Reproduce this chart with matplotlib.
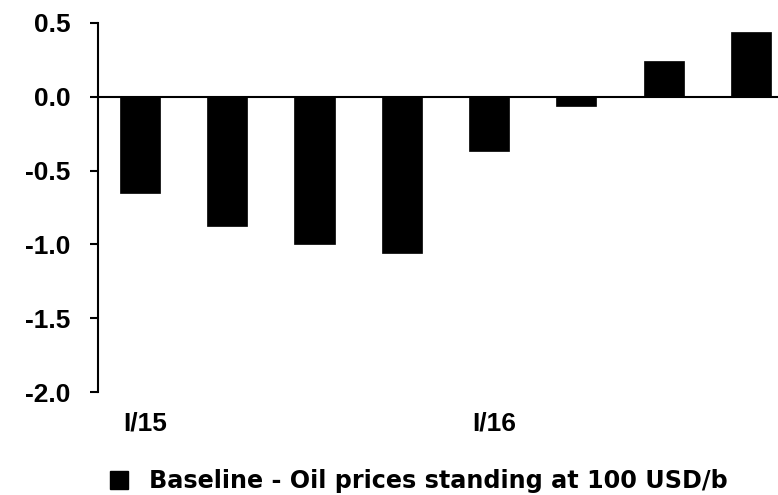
import matplotlib
matplotlib.use("Agg")
import matplotlib.pyplot as plt
import matplotlib.transforms as mtransforms
from matplotlib.lines import Line2D

plt.rcParams['font.family'] = ['Liberation Sans', 'DejaVu Sans']
plt.rcParams['font.weight'] = 'bold'

quarters = ["I/15", "II/15", "III/15", "IV/15", "I/16", "II/16", "III/16", "IV/16"]
values = [-0.65, -0.875, -1.0, -1.06, -0.37, -0.06, 0.24, 0.44]
shown_labels = {"I/15": "I/15", "I/16": "I/16"}
yticks = [0.5, 0.0, -0.5, -1.0, -1.5, -2.0]
legend_label = "Baseline - Oil prices standing at 100 USD/b"

W, H = 778, 495
fig = plt.figure(figsize=(W / 100, H / 100), dpi=100)
ax = fig.add_axes([98 / W, 1 - 392 / H, 1 - 98 / W, (392 - 23) / H])

x = list(range(len(quarters)))
ax.bar(x, values, width=0.46, color="black", edgecolor="black", linewidth=0.5, zorder=2)
ax.axhline(0, color="black", linewidth=1.5, zorder=3)

ax.set_xlim(-0.48, 7.31)
ax.set_ylim(-2.0, 0.5)
ax.set_yticks(yticks)
ax.set_yticklabels([f"{v:.1f}" for v in yticks], fontsize=19, fontweight="bold")
ax.set_xticks([i for i, q in enumerate(quarters) if q in shown_labels])
ax.set_xticklabels([shown_labels[q] for q in quarters if q in shown_labels], fontsize=19, fontweight="bold")
ax.tick_params(axis="x", length=0, pad=14)
ax.tick_params(axis="y", direction="out", length=6, width=1.5, pad=14)
offset = mtransforms.ScaledTranslation(5 / 100, 0, fig.dpi_scale_trans)
for lab in ax.get_xticklabels():
    lab.set_transform(lab.get_transform() + offset)

for s in ["top", "right", "bottom"]:
    ax.spines[s].set_visible(False)
ax.spines["left"].set_linewidth(1.5)

handle = Line2D([], [], marker="s", color="black", linestyle="none", markersize=13)
fig.legend([handle], [legend_label], loc="center left", bbox_to_anchor=(107 / W, 1 - 481 / H),
           frameon=False, prop={"family": "DejaVu Sans", "weight": "bold", "size": 17.2},
           handletextpad=0.75, handlelength=1.0, borderpad=0, borderaxespad=0)

fig.savefig("out.png", dpi=100)
